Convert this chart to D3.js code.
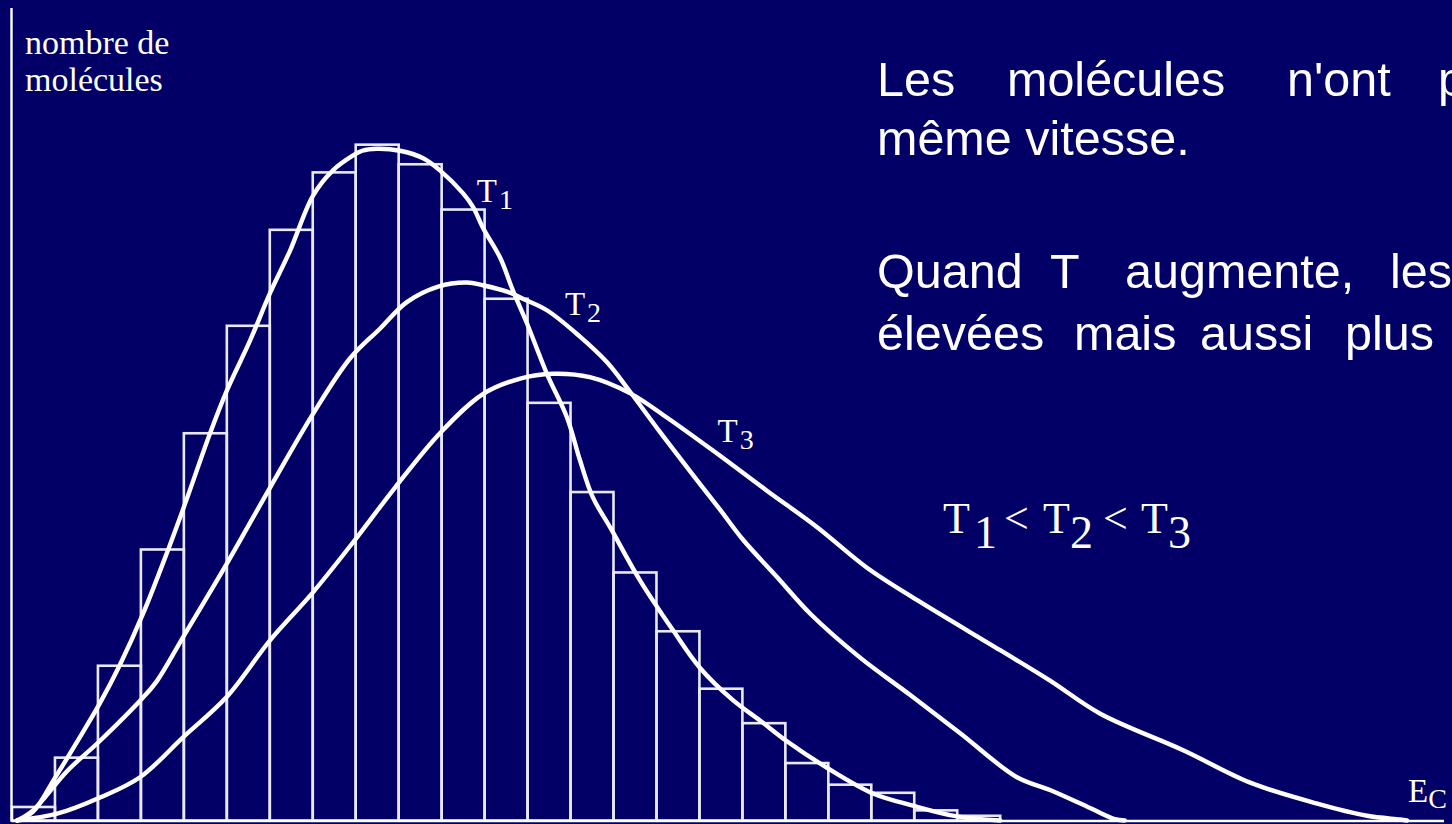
<!DOCTYPE html>
<html lang="fr">
<head>
<meta charset="utf-8">
<script src="https://cdn.jsdelivr.net/npm/d3@7"></script>
<style>
  html, body { margin: 0; padding: 0; background: #020066; overflow: hidden; }
  svg { display: block; }
</style>
</head>
<body>
<svg id="chart" width="1452" height="824"></svg>
<script>
// Histogram of molecule counts per kinetic-energy bin (at T1)
const binCounts = [2.0, 9.3, 22.9, 40.1, 57.3, 73.2, 87.4, 95.9, 100, 97.1, 90.4, 77.2,
                   61.8, 48.6, 36.7, 28.0, 19.5, 14.4, 8.5, 5.3, 4.1, 1.5, 0.7];

// Distribution curves [energy, count] for three temperatures
const curveT1 = [[0.12,0],[0.49,1.3],[1.0,6.3],[1.51,11.6],[2.05,17.4],[2.51,23.0],[3.05,30.6],
  [3.63,40.0],[4.03,46.9],[4.61,57.3],[5.0,63.6],[5.54,71.0],[6.01,78.1],[6.47,84.3],[7.01,92.5],
  [7.47,96.2],[7.94,98.4],[8.15,99.1],[8.5,99.4],[9.03,99.1],[9.57,98.0],[9.96,96.2],[10.5,92.8],
  [10.73,90.8],[10.96,87.7],[11.36,83.3],[11.66,78.4],[11.99,73.5],[12.45,66.1],[12.92,59.6],
  [13.22,53.3],[13.52,47.8],[13.92,43.4],[14.62,35.5],[15.39,28.1],[16.01,22.6],[16.78,17.8],
  [17.41,14.8],[18.02,11.8],[18.97,7.8],[20.04,4.0],[20.97,2.2],[22.0,0.6],[23.0,0]];

const curveT2 = [[0.12,0],[0.49,1.5],[1.28,7.3],[2.05,11.8],[3.05,18.2],[3.38,20.7],[3.98,27.1],
  [5.0,38.0],[6.01,49.3],[7.01,60.2],[7.87,68.4],[8.57,72.8],[9.19,76.7],[9.92,79.0],[10.59,79.6],
  [10.96,79.2],[11.59,78.1],[11.89,77.2],[12.45,75.5],[13.22,71.6],[13.85,67.8],[14.39,63.4],
  [15.08,57.5],[15.78,51.7],[16.48,46.0],[17.02,41.5],[17.81,36.0],[18.58,30.6],[19.74,24.1],
  [20.9,18.6],[22.07,12.9],[23.39,6.4],[24.16,4.5],[25.09,1.85],[25.67,0.2],[25.9,0]];

const curveT3 = [[0.12,0],[1.05,1.0],[2.05,3.4],[2.98,6.4],[3.98,12.3],[5.0,18.3],[6.01,26.7],
  [7.01,33.8],[7.98,41.5],[8.92,49.3],[9.96,57.3],[10.96,63.1],[11.83,65.4],
  [12.59,66.1],[13.45,65.6],[14.39,63.2],[15.25,59.6],[16.41,54.3],[17.57,48.8],[18.74,43.4],
  [19.9,37.4],[21.07,32.6],[23.0,25.2],[24.16,20.7],[25.33,15.8],[27.26,10.4],[28.82,5.6],
  [30.38,2.5],[31.54,0.7],[32.31,0.15],[32.47,0]];

const curveLabels = [
  { name: "T", sub: "1", at: [10.82, 91.5] },
  { name: "T", sub: "2", at: [12.87, 74.8] },
  { name: "T", sub: "3", at: [16.42, 56.0] }
];

const yLabelLines = ["nombre de", "molécules"];
const xLabel = { name: "E", sub: "C" };

const svg = d3.select("#chart");
const W = 1452, H = 824;

svg.append("rect").attr("width", W).attr("height", H).attr("fill", "#020066");

const x = d3.scaleLinear().domain([0, 33.4]).range([12, 1447]);
const y = d3.scaleLinear().domain([0, 120]).range([820.5, 9.5]);

// Histogram bars
svg.append("g")
  .selectAll("rect")
  .data(binCounts)
  .join("rect")
  .attr("x", (d, i) => x(i))
  .attr("y", d => y(d))
  .attr("width", (d, i) => x(i + 1) - x(i))
  .attr("height", d => y(0) - y(d))
  .attr("fill", "none")
  .attr("stroke", "#e9e9f6")
  .attr("stroke-width", 2.6);

// Axes: plain lines, no ticks
svg.append("line")
  .attr("x1", x(0) - 0.5).attr("x2", x(0) - 0.5)
  .attr("y1", 8).attr("y2", y(0) + 1)
  .attr("stroke", "#ffffff").attr("stroke-width", 2.4);
svg.append("line")
  .attr("x1", x(0) - 0.5).attr("x2", x(33.33))
  .attr("y1", y(0) + 0.5).attr("y2", y(0) + 0.5)
  .attr("stroke", "#ffffff").attr("stroke-width", 2.4);

// Temperature curves
const line = d3.line()
  .x(d => x(d[0]))
  .y(d => y(d[1]))
  .curve(d3.curveCatmullRom.alpha(0.5));

svg.append("g")
  .selectAll("path")
  .data([curveT1, curveT2, curveT3])
  .join("path")
  .attr("d", line)
  .attr("fill", "none")
  .attr("stroke", "#ffffff")
  .attr("stroke-width", 4.4)
  .attr("stroke-linejoin", "round")
  .attr("stroke-linecap", "round");

const serif = "'Liberation Serif', 'Times New Roman', serif";
const sans = "'Liberation Sans', Arial, sans-serif";

// Curve labels with subscripts
curveLabels.forEach(l => {
  const t = svg.append("text")
    .attr("x", x(l.at[0]))
    .attr("y", y(l.at[1]))
    .attr("fill", "#ffffff")
    .attr("font-family", serif)
    .attr("font-size", 33);
  t.append("tspan").text(l.name);
  t.append("tspan").attr("dx", 2).attr("dy", 7).attr("font-size", 28).text(l.sub);
});

// Y-axis title
svg.append("g").selectAll("text")
  .data(yLabelLines)
  .join("text")
  .attr("x", 25)
  .attr("y", (d, i) => 54 + i * 37)
  .attr("fill", "#ffffff")
  .attr("font-family", serif)
  .attr("font-size", 34)
  .text(d => d);

// X-axis title
const xt = svg.append("text")
  .attr("x", 1408).attr("y", 802)
  .attr("fill", "#ffffff")
  .attr("font-family", serif)
  .attr("font-size", 33);
xt.append("tspan").text(xLabel.name);
xt.append("tspan").attr("dy", 6).attr("font-size", 28).text(xLabel.sub);

// T1 < T2 < T3
const ineq = svg.append("text")
  .attr("y", 533)
  .attr("fill", "#ffffff")
  .attr("font-family", serif)
  .attr("font-size", 44);
[
  { t: "T", x: 943, dy: 0, fs: 44 },
  { t: "1", x: 974, dy: 15, fs: 46 },
  { t: "<", x: 1004, dy: -15, fs: 44 },
  { t: "T", x: 1043, dy: 0, fs: 44 },
  { t: "2", x: 1070, dy: 15, fs: 46 },
  { t: "<", x: 1103, dy: -15, fs: 44 },
  { t: "T", x: 1141, dy: 0, fs: 44 },
  { t: "3", x: 1168, dy: 15, fs: 46 }
].forEach(s => {
  ineq.append("tspan").attr("x", s.x).attr("dy", s.dy).attr("font-size", s.fs).text(s.t);
});

// Explanatory paragraph (justified lines, words placed individually)
const paragraph = [
  { y: 96,  words: [["Les", 877], ["molécules", 1007], ["n'ont", 1287], ["pas", 1438]] },
  { y: 155, words: [["même vitesse.", 877]] },
  { y: 288, words: [["Quand", 877], ["T", 1050], ["augmente,", 1125], ["les", 1390]] },
  { y: 350, words: [["élevées", 877], ["mais", 1074], ["aussi", 1200], ["plus", 1345]] }
];
const para = svg.append("g")
  .attr("fill", "#ffffff")
  .attr("font-family", sans)
  .attr("font-size", 48.5);
paragraph.forEach(row => {
  row.words.forEach(([w, wx]) => {
    para.append("text").attr("x", wx).attr("y", row.y).text(w);
  });
});
</script>
</body>
</html>
